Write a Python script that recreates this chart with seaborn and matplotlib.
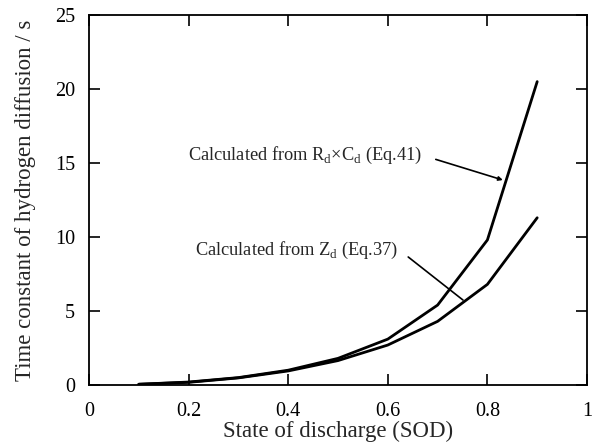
import numpy as np
import pandas as pd
import matplotlib
matplotlib.use("Agg")
import matplotlib.pyplot as plt
import seaborn as sns

# valores
sod = [0.1, 0.2, 0.3, 0.4, 0.5, 0.6, 0.7, 0.8, 0.9]
tau_rc = [0.05, 0.2, 0.5, 1.0, 1.8, 3.1, 5.4, 9.8, 20.5]
tau_zd = [0.05, 0.18, 0.48, 0.95, 1.65, 2.7, 4.3, 6.8, 11.3]

x_ticks = [0, 0.2, 0.4, 0.6, 0.8, 1]
x_labels = ["0", "0.2", "0.4", "0.6", "0.8", "1"]
y_ticks = [0, 5, 10, 15, 20, 25]

df = pd.DataFrame({
    "SOD": sod * 2,
    "tau": tau_rc + tau_zd,
    "curva": ["RdCd"] * len(sod) + ["Zd"] * len(sod),
})

sns.set_style("ticks")
plt.rcParams["font.family"] = ["Liberation Serif", "DejaVu Serif"]
plt.rcParams["mathtext.fontset"] = "custom"
plt.rcParams["mathtext.rm"] = "Liberation Serif"

fig = plt.figure(figsize=(5.95, 4.44), dpi=100)
ax = fig.add_axes([89 / 595, 1 - 385 / 444, 498 / 595, 370 / 444])

sns.lineplot(data=df, x="SOD", y="tau", units="curva", estimator=None,
             color="black", linewidth=2.0, ax=ax, legend=False)

ax.set_xlim(0, 1)
ax.set_ylim(0, 25)
ax.set_xticks(x_ticks)
ax.set_xticklabels(x_labels)
ax.set_yticks(y_ticks)
ax.tick_params(direction="in", length=8, width=1.2, top=True, right=True,
               labelsize=14.5, pad=10, colors="black")
ax.tick_params(axis="x", pad=12)
ax.tick_params(labeltop=False, labelright=False)
for s in ax.spines.values():
    s.set_linewidth(1.3)
    s.set_color("black")

ax.set_xlabel("State of discharge (SOD)", fontsize=16.5, labelpad=0)
ax.set_ylabel("Time constant of hydrogen diffusion / s", fontsize=16.5, labelpad=14)

# anotações das curvas
ax.text(0.199, 15.5, r"Calculated from R$_\mathregular{d}$×C$_\mathregular{d}$ (Eq.41)",
        fontsize=13.2, va="center", ha="left")
ax.annotate("", xy=(0.831, 13.85), xytext=(0.691, 15.3),
            arrowprops=dict(arrowstyle="-|>", color="black", lw=1.2,
                            mutation_scale=6, shrinkB=0))
ax.text(0.213, 9.1, r"Calculated from Z$_\mathregular{d}$ (Eq.37)",
        fontsize=13.2, va="center", ha="left")
ax.plot([0.641, 0.751], [8.65, 5.74], color="black", linewidth=1.2)

fig.savefig("out.png", dpi=100)
